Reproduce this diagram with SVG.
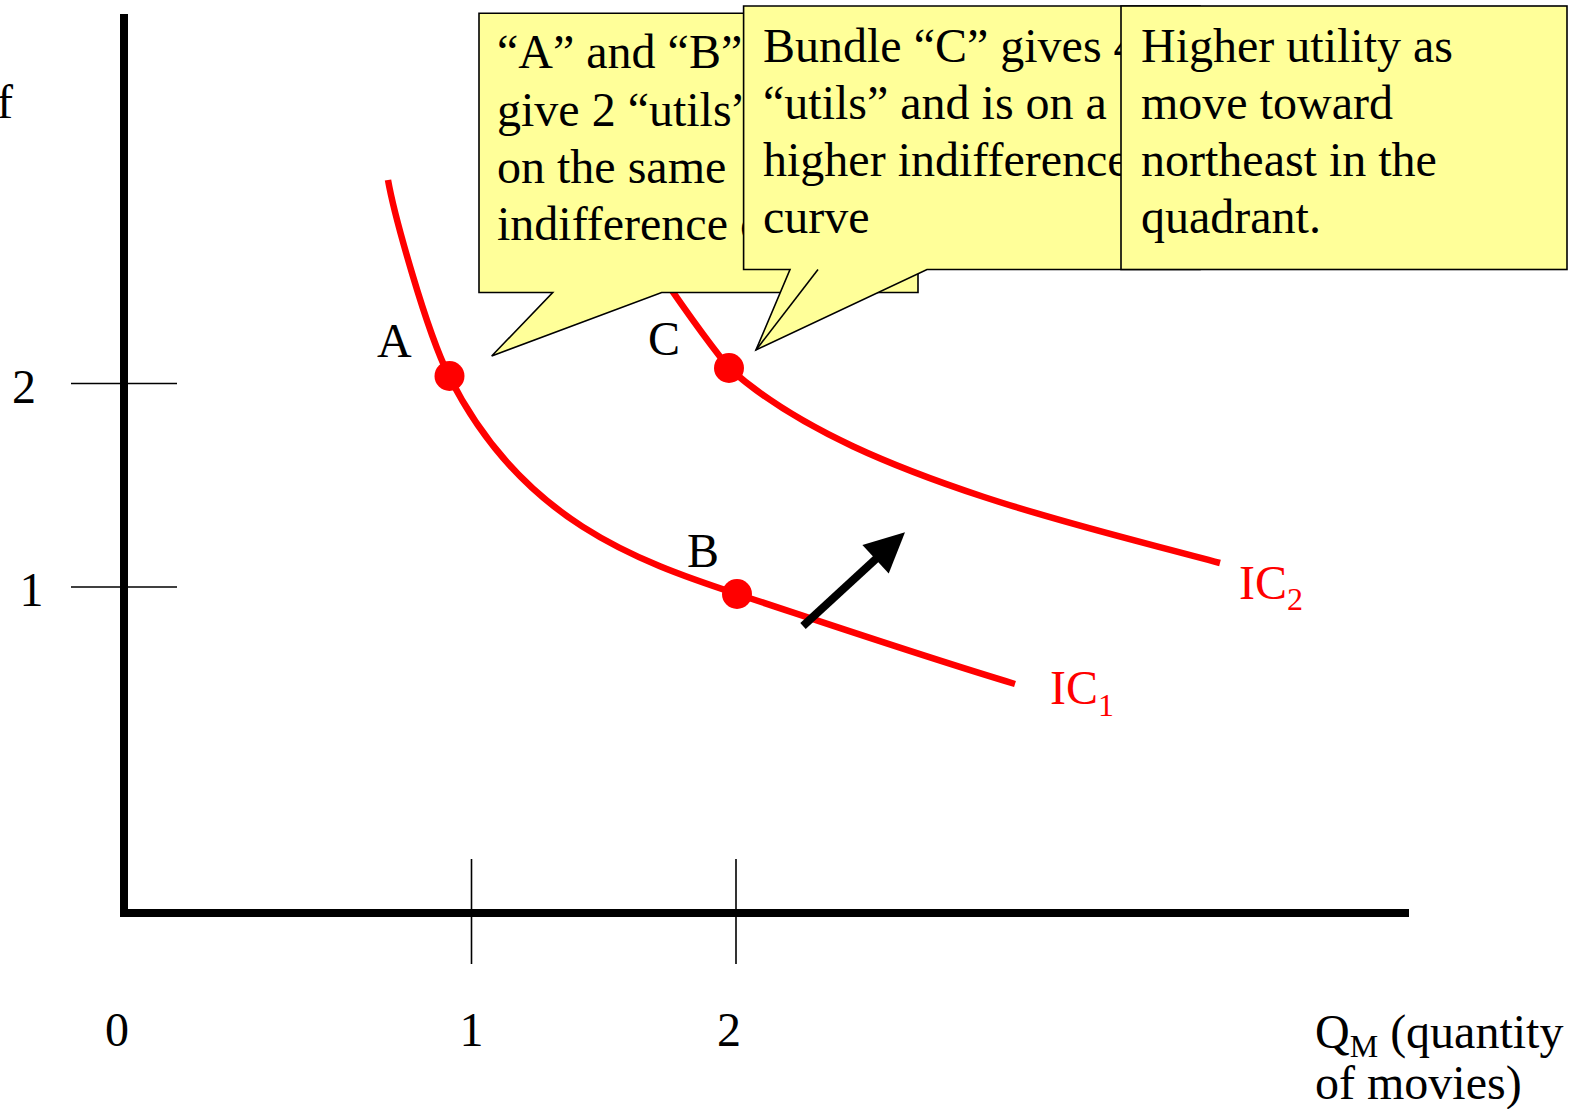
<svg xmlns="http://www.w3.org/2000/svg" width="1583" height="1109" viewBox="0 0 1583 1109">
<defs>
<style>
text{font-family:"Liberation Serif","Times New Roman",serif;font-size:48px;fill:#000}
.red{fill:#FF0000}
.axis{stroke:#000;stroke-width:8;fill:none}
.tick{stroke:#000;stroke-width:1.6;fill:none}
.ic{stroke:#FF0000;stroke-width:6.5;fill:none;stroke-linecap:butt}
.dot{fill:#FF0000}
.box{fill:#FFFF99;stroke:#000;stroke-width:1.6;stroke-linejoin:miter}
.sub{font-size:32px}
</style>
<marker id="arrowhead" markerUnits="userSpaceOnUse" markerWidth="40" markerHeight="40" viewBox="0 -18 36 36" refX="2" refY="0" orient="auto" overflow="visible">
<path d="M0,-17.5 L36,0 L0,17.5 Z" fill="#000"/>
</marker>
</defs>
<rect x="0" y="0" width="1583" height="1109" fill="#FFFFFF"/>

<g id="axes">
<line class="axis" x1="124" y1="14" x2="124" y2="917"/>
<line class="axis" x1="120" y1="913" x2="1409" y2="913"/>
<line class="tick" x1="71" y1="383.5" x2="177" y2="383.5"/>
<line class="tick" x1="71" y1="587" x2="177" y2="587"/>
<line class="tick" x1="471.5" y1="859" x2="471.5" y2="964"/>
<line class="tick" x1="736" y1="859" x2="736" y2="964"/>
</g>

<g id="axis-labels">
<text x="-3" y="118">f</text>
<text x="24" y="403" text-anchor="middle">2</text>
<text x="31.5" y="606" text-anchor="middle">1</text>
<text x="117" y="1046" text-anchor="middle">0</text>
<text x="471.5" y="1046" text-anchor="middle">1</text>
<text x="729" y="1046" text-anchor="middle">2</text>
<text x="1315" y="1048">Q<tspan class="sub" dy="9">M</tspan><tspan dy="-9"> (quantity</tspan></text>
<text x="1315" y="1099">of movies)</text>
</g>

<g id="curve-IC1">
<path class="ic" d="M388,180 C394,214 426,330 449,376 C521,520 637,561 737,594 C827,623.7 925,657 1015,684"/>
<text class="red" x="1050" y="704">IC<tspan class="sub" dy="12">1</tspan></text>
</g>

<g id="curve-IC2">
<path class="ic" d="M641,245 C666,282.5 704,337 729,368 C799,431 904,470.6 984,497 C1064,523.4 1140,541.4 1220,563"/>
<text class="red" x="1239" y="599">IC<tspan class="sub" dy="11">2</tspan></text>
</g>

<g id="point-A">
<circle class="dot" cx="449.5" cy="376" r="15"/>
<text x="377" y="357">A</text>
</g>

<g id="point-B">
<circle class="dot" cx="737" cy="594" r="15"/>
<text x="687" y="567">B</text>
</g>

<g id="point-C">
<circle class="dot" cx="729" cy="368" r="15"/>
<text x="648" y="355">C</text>
</g>

<g id="connectors">
<line x1="803" y1="626" x2="877.2" y2="557.8" stroke="#000" stroke-width="8" marker-end="url(#arrowhead)"/>
</g>

<g id="callout-AB">
<path class="box" d="M479,13.3 H918 V292.5 H661.7 L491.7,356 L552.7,292.5 H479 Z"/>
<text x="497" y="68">“A” and “B”</text>
<text x="497" y="125.5">give 2 “utils”</text>
<text x="497" y="183">on the same</text>
<text x="497" y="240">indifference c</text>
</g>

<g id="callout-C">
<path class="box" d="M743.6,6 H1200 V269.5 H927 L756,350 L790,269.5 H743.6 Z"/>
<line class="tick" x1="818" y1="269.5" x2="756" y2="350"/>
<text x="763" y="61.5">Bundle “C” gives 4</text>
<text x="763" y="118.7">“utils” and is on a</text>
<text x="763" y="176">higher indifference</text>
<text x="763" y="233">curve</text>
</g>

<g id="note-northeast">
<rect class="box" x="1121" y="6" width="446" height="263.5"/>
<text x="1141" y="61.5">Higher utility as</text>
<text x="1141" y="118.7">move toward</text>
<text x="1141" y="176">northeast in the</text>
<text x="1141" y="233">quadrant.</text>
</g>
</svg>
